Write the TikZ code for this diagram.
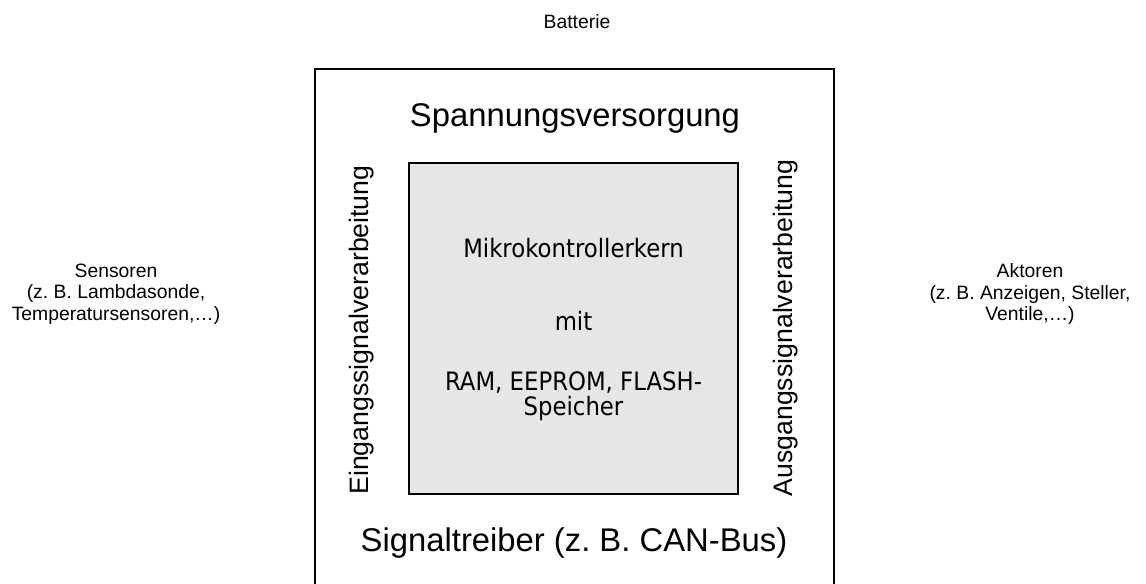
\documentclass[tikz,border=0pt]{standalone}
\usepackage{fontspec}
\setmainfont{Liberation Sans}
\newfontfamily\kernfont[FakeStretch=0.9]{DejaVu Sans}
\definecolor{kerngrau}{HTML}{E6E6E6}
\frenchspacing

\begin{document}
\begin{tikzpicture}
  [x=0.75pt,y=-0.75pt,
   box/.style={draw,line width=1.4pt,inner sep=0pt},
   klein/.style={align=center,font=\fontsize{14.5}{16}\selectfont},
   gross/.style={font=\fontsize{24.6}{28}\selectfont},
   seite/.style={rotate=90,font=\fontsize{20}{24}\selectfont}]
  \path[use as bounding box,clip] (0,0) rectangle (1146,583);

  \node[box,minimum width=389.25pt,minimum height=398.25pt] (sg) at (574.5,334.5) {};
  \node[box,fill=kerngrau,minimum width=246.75pt,minimum height=248.25pt] (kern) at (573.5,328.5) {};

  \node[klein] (bat) at (577,22) {Batterie};
  \node[klein] (sens) at (116,294) {Sensoren\\(z. B. Lambdasonde,\\Temperatursensoren,\ldots)};
  \node[klein] (akt) at (1030,294) {Aktoren\\(z. B. Anzeigen, Steller,\\Ventile,\ldots)};

  \node[gross] (sv) at (575,118) {Spannungsversorgung};
  \node[gross] (st) at (574,543) {Signaltreiber (z. B. CAN-Bus)};
  \node[seite] (ein) at (362,330) {Eingangssignalverarbeitung};
  \node[seite] (aus) at (786,328) {Ausgangssignalverarbeitung};

  \node[align=center,font=\kernfont\fontsize{19}{18.75}\selectfont] (mk) at (573.5,330)
    {Mikrokontrollerkern\\[36pt]mit\\[26.25pt]RAM, EEPROM, FLASH-\\Speicher};
\end{tikzpicture}
\end{document}
